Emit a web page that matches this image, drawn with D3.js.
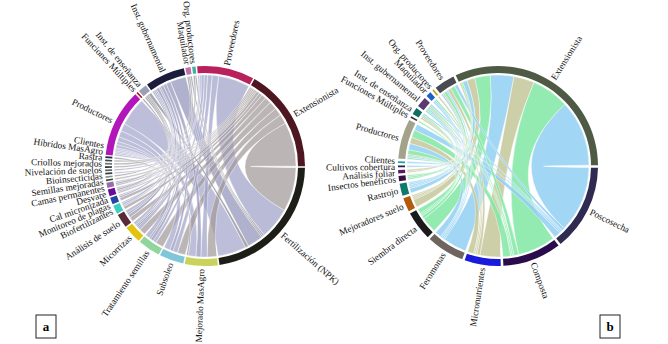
<!DOCTYPE html>
<html lang="es">
<head>
<meta charset="UTF-8">
<title>Actores e innovaciones</title>
<script src="https://cdn.jsdelivr.net/npm/d3@7"></script>
<style>
body { margin: 0; background: #fff; }
text { font-family: "Liberation Serif", "Times New Roman", serif; }
</style>
</head>
<body>
<script>

var width = 668, height = 344;

// panel a : clockwise order of sectors, starting at Proveedores
var orderA = ["Proveedores", "Extensionista", "Fertilización (NPK)", "Mejorado MasAgro", "Subsoleo",
  "Tratamiento semillas", "Micorrizas", "Análisis de suelo", "Biofertilizantes", "Monitoreo de plagas",
  "Cal micronizada", "Desvare", "Camas permanentes", "Semillas mejoradas", "Bioinsecticidas",
  "Nivelación de suelos", "Criollos mejorados", "Rastra", "Híbridos MasAgro", "Clientes", "Productores",
  "Funciones Múltiples", "Inst. de enseñanza", "Inst. gubernamental", "Maquilador", "Org. productores"];

// actor, innovation, number of links
var linksA = [
  ["Extensionista", "Fertilización (NPK)", 28], ["Proveedores", "Fertilización (NPK)", 20],
  ["Productores", "Fertilización (NPK)", 18], ["Inst. gubernamental", "Fertilización (NPK)", 10],
  ["Inst. de enseñanza", "Fertilización (NPK)", 2], ["Maquilador", "Fertilización (NPK)", 1],
  ["Org. productores", "Fertilización (NPK)", 1],
  ["Extensionista", "Mejorado MasAgro", 6], ["Proveedores", "Mejorado MasAgro", 4],
  ["Productores", "Mejorado MasAgro", 5], ["Inst. gubernamental", "Mejorado MasAgro", 3],
  ["Clientes", "Mejorado MasAgro", 1],
  ["Extensionista", "Subsoleo", 5], ["Proveedores", "Subsoleo", 3], ["Productores", "Subsoleo", 4],
  ["Inst. gubernamental", "Subsoleo", 2],
  ["Extensionista", "Tratamiento semillas", 5], ["Proveedores", "Tratamiento semillas", 2],
  ["Productores", "Tratamiento semillas", 3], ["Inst. gubernamental", "Tratamiento semillas", 2],
  ["Inst. de enseñanza", "Tratamiento semillas", 1],
  ["Extensionista", "Micorrizas", 4], ["Proveedores", "Micorrizas", 2], ["Productores", "Micorrizas", 2],
  ["Inst. gubernamental", "Micorrizas", 1], ["Maquilador", "Micorrizas", 1],
  ["Extensionista", "Análisis de suelo", 3], ["Productores", "Análisis de suelo", 2],
  ["Inst. gubernamental", "Análisis de suelo", 2], ["Inst. de enseñanza", "Análisis de suelo", 1],
  ["Extensionista", "Biofertilizantes", 2], ["Proveedores", "Biofertilizantes", 1],
  ["Productores", "Biofertilizantes", 1], ["Inst. gubernamental", "Biofertilizantes", 1],
  ["Extensionista", "Monitoreo de plagas", 2], ["Productores", "Monitoreo de plagas", 1],
  ["Inst. gubernamental", "Monitoreo de plagas", 1],
  ["Extensionista", "Cal micronizada", 1], ["Proveedores", "Cal micronizada", 1],
  ["Productores", "Cal micronizada", 1], ["Funciones Múltiples", "Cal micronizada", 1],
  ["Extensionista", "Desvare", 1], ["Productores", "Desvare", 1], ["Inst. de enseñanza", "Desvare", 1],
  ["Extensionista", "Camas permanentes", 1], ["Org. productores", "Semillas mejoradas", 1],
  ["Productores", "Bioinsecticidas", 1], ["Extensionista", "Nivelación de suelos", 1],
  ["Inst. gubernamental", "Criollos mejorados", 1], ["Maquilador", "Rastra", 1],
  ["Extensionista", "Híbridos MasAgro", 1]
];

// panel b : clockwise order of sectors, starting at Extensionista
var orderB = ["Extensionista", "Poscosecha", "Composta", "Micronutrientes", "Feromonas", "Siembra directa",
  "Mejoradores suelo", "Rastrojo", "Insectos benéficos", "Análisis foliar", "Cultivos cobertura", "Clientes",
  "Productores", "Funciones Múltiples", "Inst. de enseñanza", "Inst. gubernamental", "Maquilador",
  "Org. productores", "Proveedores"];

var innovB = ["Poscosecha", "Composta", "Micronutrientes", "Feromonas", "Siembra directa",
  "Mejoradores suelo", "Rastrojo", "Insectos benéficos", "Análisis foliar", "Cultivos cobertura"];

var linksB = [
  ["Extensionista", "Poscosecha", 42], ["Productores", "Poscosecha", 4], ["Proveedores", "Poscosecha", 2],
  ["Inst. gubernamental", "Poscosecha", 1], ["Inst. de enseñanza", "Poscosecha", 1],
  ["Extensionista", "Composta", 24], ["Productores", "Composta", 5], ["Proveedores", "Composta", 3],
  ["Inst. gubernamental", "Composta", 1], ["Maquilador", "Composta", 1],
  ["Extensionista", "Micronutrientes", 13], ["Productores", "Micronutrientes", 4],
  ["Proveedores", "Micronutrientes", 2], ["Inst. gubernamental", "Micronutrientes", 1],
  ["Org. productores", "Micronutrientes", 1],
  ["Extensionista", "Feromonas", 15], ["Productores", "Feromonas", 4], ["Proveedores", "Feromonas", 1],
  ["Inst. gubernamental", "Feromonas", 1], ["Maquilador", "Feromonas", 1],
  ["Extensionista", "Siembra directa", 10], ["Productores", "Siembra directa", 3],
  ["Proveedores", "Siembra directa", 2], ["Inst. gubernamental", "Siembra directa", 1],
  ["Inst. de enseñanza", "Siembra directa", 1],
  ["Extensionista", "Mejoradores suelo", 5], ["Productores", "Mejoradores suelo", 1],
  ["Proveedores", "Mejoradores suelo", 1], ["Inst. de enseñanza", "Mejoradores suelo", 1],
  ["Extensionista", "Rastrojo", 3], ["Productores", "Rastrojo", 1], ["Proveedores", "Rastrojo", 1],
  ["Inst. gubernamental", "Rastrojo", 1], ["Maquilador", "Rastrojo", 1],
  ["Extensionista", "Insectos benéficos", 1], ["Productores", "Insectos benéficos", 1],
  ["Funciones Múltiples", "Insectos benéficos", 1],
  ["Extensionista", "Análisis foliar", 1], ["Inst. de enseñanza", "Análisis foliar", 1],
  ["Clientes", "Cultivos cobertura", 1]
];

// sector colours, same order as orderA / orderB
var sectorColA = ["#b8215c", "#4d1620", "#1e1e19", "#c9d35c", "#7fc6d8", "#8fd59c", "#e2c30f", "#5b2a38",
  "#3ccfbf", "#2346a4", "#690c9c", "#9b6aa9", "#2f4f3f", "#8a8f8a", "#3a3a3a", "#55705e", "#2a2a30",
  "#6c7a70", "#404850", "#1d2a40", "#b316b8", "#b0202a", "#9aa0b0", "#1c1c3c", "#c070a8", "#40b0a0"];
var sectorColB = ["#4f5a45", "#2e2a52", "#2a0b4c", "#1a1adc", "#6e655e", "#1b1b1b", "#b5590b", "#0f7a6a",
  "#3a1042", "#5a1a64", "#2a1a44", "#1aa0a8", "#a3a38c", "#333333", "#0f7060", "#5c3a70", "#1e5fd0",
  "#c8a020", "#4a4a52"];

// sectors laid out like circlize: links inside a sector sorted so they do not cross
function layout(order, links, padDeg, rotDeg) {
  var n = order.length;
  var idx = new Map(order.map(function (d, i) { return [d, i]; }));
  var totals = order.map(function () { return 0; });
  links.forEach(function (l) {
    totals[idx.get(l[0])] += l[2];
    totals[idx.get(l[1])] += l[2];
  });
  var pad = padDeg * Math.PI / 180, rot = rotDeg * Math.PI / 180;
  var ang = d3.scaleLinear().domain([0, d3.sum(totals)]).range([0, 2 * Math.PI - n * pad]);

  var groups = [], cum = 0;
  order.forEach(function (name, i) {
    var s = rot + ang(cum) + i * pad;
    cum += totals[i];
    groups.push({ name: name, index: i, startAngle: s, endAngle: rot + ang(cum) + i * pad });
  });

  var ends = {};
  groups.forEach(function (g) {
    var mine = [];
    links.forEach(function (l, k) {
      var s = idx.get(l[0]), t = idx.get(l[1]);
      if (s === g.index) mine.push({ key: "s" + k, other: t, v: l[2] });
      if (t === g.index) mine.push({ key: "t" + k, other: s, v: l[2] });
    });
    mine.sort(function (a, b) {
      return ((b.other - g.index + n) % n) - ((a.other - g.index + n) % n);
    });
    var a = g.startAngle;
    mine.forEach(function (m) {
      ends[m.key] = { startAngle: a, endAngle: a + ang(m.v) };
      a += ang(m.v);
    });
  });

  var chords = links.map(function (l, k) {
    return { source: ends["s" + k], target: ends["t" + k], actor: l[0], item: l[1], value: l[2] };
  });
  return { groups: groups, chords: chords };
}

// push crowded labels apart a little
function spreadLabels(groups, sepDeg) {
  var sep = sepDeg * Math.PI / 180;
  var items = groups.map(function (g) { return { g: g, a: (g.startAngle + g.endAngle) / 2 }; });
  items.sort(function (x, y) { return x.a - y.a; });
  for (var it = 0; it < 400; it++) {
    for (var i = 0; i < items.length - 1; i++) {
      var d = items[i + 1].a - items[i].a;
      if (d < sep) {
        var m = (sep - d) / 2;
        items[i].a -= m;
        items[i + 1].a += m;
      }
    }
  }
  items.forEach(function (x) { x.g.labelAngle = x.a; });
}

var svg = d3.select("body").append("svg")
  .attr("width", width)
  .attr("height", height);

function drawPanel(cx, cy, order, links, padDeg, rotDeg, sepDeg, sectorCol, chordCol, chordOpacity, tag, box) {
  var rOut = 100, rIn = 93, rChord = 91, rLabel = 103;
  var lay = layout(order, links, padDeg, rotDeg);
  spreadLabels(lay.groups, sepDeg);
  var g = svg.append("g").attr("transform", "translate(" + cx + "," + cy + ")");

  var ribbon = d3.ribbon().radius(rChord);
  g.append("g").selectAll("path")
    .data(lay.chords.slice().sort(function (a, b) { return b.value - a.value; }))
    .enter().append("path")
    .attr("d", ribbon)
    .attr("fill", chordCol)
    .attr("fill-opacity", chordOpacity)
    .attr("stroke", "#fff")
    .attr("stroke-opacity", 0.8)
    .attr("stroke-width", 0.5);

  var arc = d3.arc().innerRadius(rIn).outerRadius(rOut);
  g.append("g").selectAll("path")
    .data(lay.groups)
    .enter().append("path")
    .attr("d", arc)
    .attr("fill", function (d) { return sectorCol[d.index]; });

  function labelDeg(d) {
    return ((d.labelAngle * 180 / Math.PI) + 360) % 360;
  }

  g.append("g").selectAll("text")
    .data(lay.groups)
    .enter().append("text")
    .attr("font-size", "9.3px")
    .attr("fill", "#111")
    .attr("dy", "0.35em")
    .attr("transform", function (d) {
      var deg = labelDeg(d);
      var t = "rotate(" + (deg - 90) + ") translate(" + rLabel + ",0)";
      return deg < 180 ? t : t + " rotate(180)";
    })
    .attr("text-anchor", function (d) { return labelDeg(d) < 180 ? "start" : "end"; })
    .text(function (d) { return d.name; });

  // panel letter
  svg.append("rect")
    .attr("x", box[0]).attr("y", box[1]).attr("width", 20).attr("height", 23)
    .attr("fill", "#fff").attr("stroke", "#222").attr("stroke-width", 1);
  svg.append("text")
    .attr("x", box[0] + 10).attr("y", box[1] + 16)
    .attr("text-anchor", "middle")
    .attr("font-size", "13px")
    .attr("font-weight", "bold")
    .text(tag);
}

var actorTone = d3.scaleOrdinal()
  .domain(["Proveedores", "Extensionista", "Productores", "Inst. gubernamental"])
  .range(["#a0a2c8", "#a2989a", "#a3a5ca", "#9193b9"])
  .unknown("#85858f");

var itemTone = d3.scaleOrdinal()
  .domain(innovB)
  .range(["#94d0f2", "#84e8a6", "#c6c89c"]);

drawPanel(205, 166, orderA, linksA, 0.9, -4.5, 3.4, sectorColA,
  function (d) { return actorTone(d.actor); }, 0.72, "a", [36, 315]);

drawPanel(498, 166, orderB, linksB, 1.5, -25, 3.4, sectorColB,
  function (d) { return itemTone(d.item); }, 0.88, "b", [600, 315]);

</script>
</body>
</html>
